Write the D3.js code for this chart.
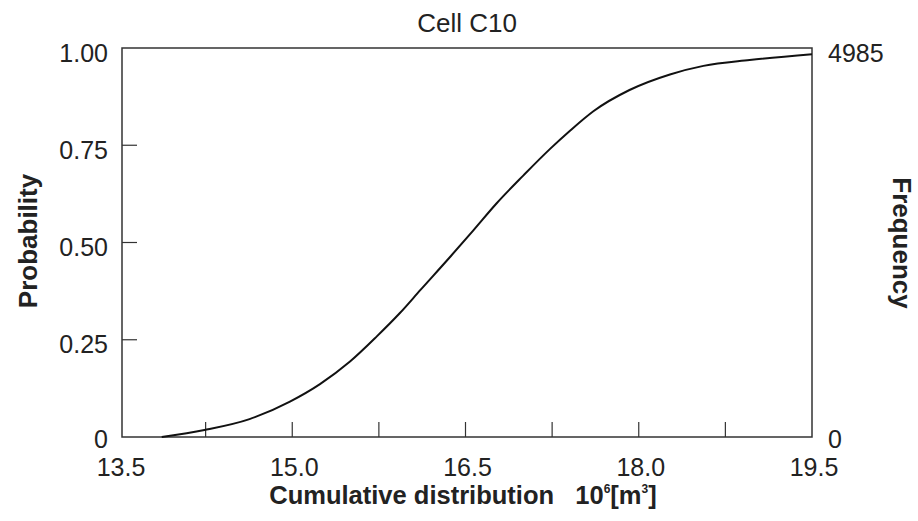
<!DOCTYPE html>
<html>
<head>
    <meta charset="utf-8">
    <title>Cell C10</title>
    <script src="https://cdn.jsdelivr.net/npm/d3@7"></script>
    <style>
        body { margin: 0; background: #fff; }
        text { font-family: "Liberation Sans", Arial, sans-serif; fill: #222; }
    </style>
</head>
<body>
    <div id="chart"></div>
    <script>
        // volume (10^6 m3) and cumulative probability
        var volume = [13.87, 14.24, 14.63, 14.98, 15.24, 15.50, 15.73, 15.93, 16.11, 16.37, 16.57,
                      16.77, 17.00, 17.23, 17.40, 17.61, 17.92, 18.27, 18.56, 18.96, 19.50];
        var probability = [0, 0.018, 0.046, 0.091, 0.136, 0.194, 0.258, 0.318, 0.378, 0.464, 0.532,
                           0.601, 0.672, 0.740, 0.786, 0.838, 0.892, 0.932, 0.954, 0.969, 0.984];

        var xLabels = [13.5, 15.0, 16.5, 18.0, 19.5];
        var xMinor = [14.25, 15.0, 15.75, 16.5, 17.25, 18.0, 18.75];
        var yLabels = [0, 0.25, 0.5, 0.75, 1.0];
        var freqLabels = [0, 4985];

        var width = 918,
            height = 521;

        var frame = {left: 122, right: 812, top: 48, bottom: 437};

        var svg = d3.select("#chart").append("svg")
            .attr("width", width)
            .attr("height", height);

        var x = d3.scaleLinear().domain([13.5, 19.5]).range([119, 812]);
        var y = d3.scaleLinear().domain([0, 1]).range([frame.bottom, frame.top]);
        var yFreq = d3.scaleLinear().domain([0, 4985]).range([frame.bottom, frame.top]);

        // frame
        svg.append("rect")
            .attr("x", frame.left)
            .attr("y", frame.top)
            .attr("width", frame.right - frame.left)
            .attr("height", frame.bottom - frame.top)
            .attr("fill", "none")
            .attr("stroke", "#333")
            .attr("stroke-width", 1.5);

        // bottom ticks (inward)
        svg.append("g").selectAll("line").data(xMinor).enter()
            .append("line")
            .attr("x1", function(d){ return x(d); })
            .attr("x2", function(d){ return x(d); })
            .attr("y1", frame.bottom)
            .attr("y2", frame.bottom - 15)
            .attr("stroke", "#333")
            .attr("stroke-width", 1.2);

        // left ticks (inward)
        svg.append("g").selectAll("line").data([0.25, 0.5, 0.75]).enter()
            .append("line")
            .attr("x1", frame.left)
            .attr("x2", frame.left + 15)
            .attr("y1", function(d){ return y(d); })
            .attr("y2", function(d){ return y(d); })
            .attr("stroke", "#333")
            .attr("stroke-width", 1.2);

        // x labels
        svg.append("g").selectAll("text").data(xLabels).enter()
            .append("text")
            .attr("x", function(d){ return x(d) + 2; })
            .attr("y", 476)
            .attr("text-anchor", "middle")
            .style("font-size", "25px")
            .text(function(d){ return d.toFixed(1); });

        // y labels (probability)
        svg.append("g").selectAll("text").data(yLabels).enter()
            .append("text")
            .attr("x", 108)
            .attr("y", function(d){ return y(d) + (d === 0 ? 11 : 13.5); })
            .attr("text-anchor", "end")
            .style("font-size", "25px")
            .text(function(d){ return d === 0 ? "0" : d.toFixed(2); });

        // right labels (frequency)
        svg.append("g").selectAll("text").data(freqLabels).enter()
            .append("text")
            .attr("x", 828)
            .attr("y", function(d){ return yFreq(d) + (d === 0 ? 11 : 13.5); })
            .attr("text-anchor", "start")
            .style("font-size", "25px")
            .text(function(d){ return d; });

        // curve
        var pts = volume.map(function(v, i){ return [v, probability[i]]; });
        var line = d3.line()
            .x(function(d){ return x(d[0]); })
            .y(function(d){ return y(d[1]); })
            .curve(d3.curveMonotoneX);

        svg.append("path")
            .datum(pts)
            .attr("d", line)
            .attr("fill", "none")
            .attr("stroke", "#111")
            .attr("stroke-width", 2);

        // title
        svg.append("text")
            .attr("x", 467)
            .attr("y", 32)
            .attr("text-anchor", "middle")
            .style("font-size", "26px")
            .text("Cell C10");

        // x axis title
        var xt = svg.append("text")
            .attr("x", 463)
            .attr("y", 504)
            .attr("text-anchor", "middle")
            .style("font-size", "25.5px")
            .style("font-weight", "bold");
        xt.append("tspan").text("Cumulative distribution\u00a0\u00a0\u00a010");
        xt.append("tspan").attr("dy", -11).style("font-size", "12px").text("6");
        xt.append("tspan").attr("dy", 11).text("[m");
        xt.append("tspan").attr("dy", -11).style("font-size", "12px").text("3");
        xt.append("tspan").attr("dy", 11).text("]");

        // y axis titles
        svg.append("text")
            .attr("transform", "translate(37,241) rotate(-90)")
            .attr("text-anchor", "middle")
            .style("font-size", "26px")
            .style("font-weight", "bold")
            .text("Probability");

        svg.append("text")
            .attr("transform", "translate(893,243) rotate(90)")
            .attr("text-anchor", "middle")
            .style("font-size", "26px")
            .style("font-weight", "bold")
            .text("Frequency");
    </script>
</body>
</html>
